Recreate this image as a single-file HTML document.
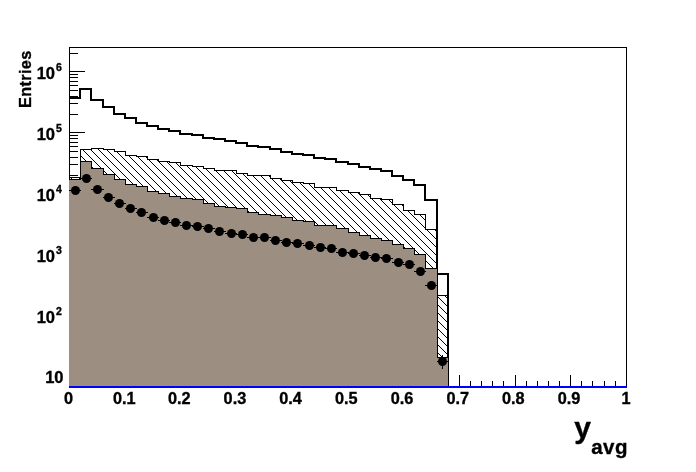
<!DOCTYPE html>
<html><head><meta charset="utf-8"><title>y_avg</title>
<style>
html,body{margin:0;padding:0;background:#fff;}
body{width:696px;height:472px;overflow:hidden;}
svg{display:block;}
text{font-family:"Liberation Sans",Arial,Helvetica,sans-serif;font-weight:bold;fill:#000;stroke:#000;stroke-width:0.35px;}
</style></head><body>
<svg width="696" height="472" viewBox="0 0 696 472">
<defs>
<pattern id="hatch" x="0" y="0" width="8" height="8" patternUnits="userSpaceOnUse">
<rect x="5" y="0" width="1" height="1" fill="#000" shape-rendering="crispEdges"/>
<rect x="6" y="1" width="1" height="1" fill="#000" shape-rendering="crispEdges"/>
<rect x="7" y="2" width="1" height="1" fill="#000" shape-rendering="crispEdges"/>
<rect x="0" y="3" width="1" height="1" fill="#000" shape-rendering="crispEdges"/>
<rect x="1" y="4" width="1" height="1" fill="#000" shape-rendering="crispEdges"/>
<rect x="2" y="5" width="1" height="1" fill="#000" shape-rendering="crispEdges"/>
<rect x="3" y="6" width="1" height="1" fill="#000" shape-rendering="crispEdges"/>
<rect x="4" y="7" width="1" height="1" fill="#000" shape-rendering="crispEdges"/>
</pattern></defs>
<rect width="696" height="472" fill="#fff"/>
<g shape-rendering="crispEdges"><rect x="69" y="47" width="558" height="1" fill="#000"/><rect x="69" y="386" width="558" height="1" fill="#000"/><rect x="69" y="47" width="1" height="340" fill="#000"/><rect x="626" y="47" width="1" height="340" fill="#000"/><rect x="69" y="376" width="16" height="1" fill="#000"/><rect x="69" y="315" width="16" height="1" fill="#000"/><rect x="69" y="254" width="16" height="1" fill="#000"/><rect x="69" y="193" width="16" height="1" fill="#000"/><rect x="69" y="132" width="16" height="1" fill="#000"/><rect x="69" y="71" width="16" height="1" fill="#000"/><rect x="69" y="382" width="9" height="1" fill="#000"/><rect x="69" y="379" width="9" height="1" fill="#000"/><rect x="69" y="358" width="9" height="1" fill="#000"/><rect x="69" y="347" width="9" height="1" fill="#000"/><rect x="69" y="340" width="9" height="1" fill="#000"/><rect x="69" y="334" width="9" height="1" fill="#000"/><rect x="69" y="329" width="9" height="1" fill="#000"/><rect x="69" y="325" width="9" height="1" fill="#000"/><rect x="69" y="321" width="9" height="1" fill="#000"/><rect x="69" y="318" width="9" height="1" fill="#000"/><rect x="69" y="297" width="9" height="1" fill="#000"/><rect x="69" y="286" width="9" height="1" fill="#000"/><rect x="69" y="279" width="9" height="1" fill="#000"/><rect x="69" y="273" width="9" height="1" fill="#000"/><rect x="69" y="268" width="9" height="1" fill="#000"/><rect x="69" y="264" width="9" height="1" fill="#000"/><rect x="69" y="260" width="9" height="1" fill="#000"/><rect x="69" y="257" width="9" height="1" fill="#000"/><rect x="69" y="236" width="9" height="1" fill="#000"/><rect x="69" y="225" width="9" height="1" fill="#000"/><rect x="69" y="218" width="9" height="1" fill="#000"/><rect x="69" y="212" width="9" height="1" fill="#000"/><rect x="69" y="207" width="9" height="1" fill="#000"/><rect x="69" y="203" width="9" height="1" fill="#000"/><rect x="69" y="199" width="9" height="1" fill="#000"/><rect x="69" y="196" width="9" height="1" fill="#000"/><rect x="69" y="175" width="9" height="1" fill="#000"/><rect x="69" y="164" width="9" height="1" fill="#000"/><rect x="69" y="157" width="9" height="1" fill="#000"/><rect x="69" y="151" width="9" height="1" fill="#000"/><rect x="69" y="146" width="9" height="1" fill="#000"/><rect x="69" y="142" width="9" height="1" fill="#000"/><rect x="69" y="138" width="9" height="1" fill="#000"/><rect x="69" y="135" width="9" height="1" fill="#000"/><rect x="69" y="114" width="9" height="1" fill="#000"/><rect x="69" y="103" width="9" height="1" fill="#000"/><rect x="69" y="96" width="9" height="1" fill="#000"/><rect x="69" y="90" width="9" height="1" fill="#000"/><rect x="69" y="85" width="9" height="1" fill="#000"/><rect x="69" y="81" width="9" height="1" fill="#000"/><rect x="69" y="77" width="9" height="1" fill="#000"/><rect x="69" y="74" width="9" height="1" fill="#000"/><rect x="69" y="53" width="9" height="1" fill="#000"/><rect x="69" y="375" width="1" height="12" fill="#000"/><rect x="80" y="381" width="1" height="6" fill="#000"/><rect x="91" y="381" width="1" height="6" fill="#000"/><rect x="103" y="381" width="1" height="6" fill="#000"/><rect x="114" y="381" width="1" height="6" fill="#000"/><rect x="125" y="375" width="1" height="12" fill="#000"/><rect x="136" y="381" width="1" height="6" fill="#000"/><rect x="147" y="381" width="1" height="6" fill="#000"/><rect x="158" y="381" width="1" height="6" fill="#000"/><rect x="169" y="381" width="1" height="6" fill="#000"/><rect x="180" y="375" width="1" height="12" fill="#000"/><rect x="192" y="381" width="1" height="6" fill="#000"/><rect x="203" y="381" width="1" height="6" fill="#000"/><rect x="214" y="381" width="1" height="6" fill="#000"/><rect x="225" y="381" width="1" height="6" fill="#000"/><rect x="236" y="375" width="1" height="12" fill="#000"/><rect x="247" y="381" width="1" height="6" fill="#000"/><rect x="258" y="381" width="1" height="6" fill="#000"/><rect x="270" y="381" width="1" height="6" fill="#000"/><rect x="281" y="381" width="1" height="6" fill="#000"/><rect x="292" y="375" width="1" height="12" fill="#000"/><rect x="303" y="381" width="1" height="6" fill="#000"/><rect x="314" y="381" width="1" height="6" fill="#000"/><rect x="325" y="381" width="1" height="6" fill="#000"/><rect x="336" y="381" width="1" height="6" fill="#000"/><rect x="348" y="375" width="1" height="12" fill="#000"/><rect x="359" y="381" width="1" height="6" fill="#000"/><rect x="370" y="381" width="1" height="6" fill="#000"/><rect x="381" y="381" width="1" height="6" fill="#000"/><rect x="392" y="381" width="1" height="6" fill="#000"/><rect x="403" y="375" width="1" height="12" fill="#000"/><rect x="414" y="381" width="1" height="6" fill="#000"/><rect x="425" y="381" width="1" height="6" fill="#000"/><rect x="437" y="381" width="1" height="6" fill="#000"/><rect x="448" y="381" width="1" height="6" fill="#000"/><rect x="459" y="375" width="1" height="12" fill="#000"/><rect x="470" y="381" width="1" height="6" fill="#000"/><rect x="481" y="381" width="1" height="6" fill="#000"/><rect x="492" y="381" width="1" height="6" fill="#000"/><rect x="503" y="381" width="1" height="6" fill="#000"/><rect x="515" y="375" width="1" height="12" fill="#000"/><rect x="526" y="381" width="1" height="6" fill="#000"/><rect x="537" y="381" width="1" height="6" fill="#000"/><rect x="548" y="381" width="1" height="6" fill="#000"/><rect x="559" y="381" width="1" height="6" fill="#000"/><rect x="570" y="375" width="1" height="12" fill="#000"/><rect x="581" y="381" width="1" height="6" fill="#000"/><rect x="592" y="381" width="1" height="6" fill="#000"/><rect x="604" y="381" width="1" height="6" fill="#000"/><rect x="615" y="381" width="1" height="6" fill="#000"/><rect x="626" y="375" width="1" height="12" fill="#000"/></g>
<g shape-rendering="crispEdges"><rect x="69" y="97" width="12" height="2" fill="#000"/><rect x="79" y="88" width="2" height="11" fill="#000"/><rect x="79" y="88" width="13" height="2" fill="#000"/><rect x="90" y="88" width="2" height="13" fill="#000"/><rect x="90" y="99" width="14" height="2" fill="#000"/><rect x="102" y="99" width="2" height="9" fill="#000"/><rect x="102" y="106" width="13" height="2" fill="#000"/><rect x="113" y="106" width="2" height="9" fill="#000"/><rect x="113" y="113" width="13" height="2" fill="#000"/><rect x="124" y="113" width="2" height="6" fill="#000"/><rect x="124" y="117" width="13" height="2" fill="#000"/><rect x="135" y="117" width="2" height="7" fill="#000"/><rect x="135" y="122" width="13" height="2" fill="#000"/><rect x="146" y="122" width="2" height="5" fill="#000"/><rect x="146" y="125" width="13" height="2" fill="#000"/><rect x="157" y="125" width="2" height="5" fill="#000"/><rect x="157" y="128" width="13" height="2" fill="#000"/><rect x="168" y="128" width="2" height="4" fill="#000"/><rect x="168" y="130" width="13" height="2" fill="#000"/><rect x="179" y="130" width="2" height="5" fill="#000"/><rect x="179" y="133" width="14" height="2" fill="#000"/><rect x="191" y="133" width="2" height="3" fill="#000"/><rect x="191" y="134" width="13" height="2" fill="#000"/><rect x="202" y="134" width="2" height="5" fill="#000"/><rect x="202" y="137" width="13" height="2" fill="#000"/><rect x="213" y="137" width="2" height="3" fill="#000"/><rect x="213" y="138" width="13" height="2" fill="#000"/><rect x="224" y="138" width="2" height="4" fill="#000"/><rect x="224" y="140" width="13" height="2" fill="#000"/><rect x="235" y="140" width="2" height="4" fill="#000"/><rect x="235" y="142" width="13" height="2" fill="#000"/><rect x="246" y="142" width="2" height="5" fill="#000"/><rect x="246" y="145" width="13" height="2" fill="#000"/><rect x="257" y="145" width="2" height="3" fill="#000"/><rect x="257" y="146" width="14" height="2" fill="#000"/><rect x="269" y="146" width="2" height="4" fill="#000"/><rect x="269" y="148" width="13" height="2" fill="#000"/><rect x="280" y="148" width="2" height="5" fill="#000"/><rect x="280" y="151" width="13" height="2" fill="#000"/><rect x="291" y="151" width="2" height="4" fill="#000"/><rect x="291" y="153" width="13" height="2" fill="#000"/><rect x="302" y="153" width="2" height="3" fill="#000"/><rect x="302" y="154" width="13" height="2" fill="#000"/><rect x="313" y="154" width="2" height="5" fill="#000"/><rect x="313" y="157" width="13" height="2" fill="#000"/><rect x="324" y="157" width="2" height="3" fill="#000"/><rect x="324" y="158" width="13" height="2" fill="#000"/><rect x="335" y="158" width="2" height="5" fill="#000"/><rect x="335" y="161" width="14" height="2" fill="#000"/><rect x="347" y="161" width="2" height="4" fill="#000"/><rect x="347" y="163" width="13" height="2" fill="#000"/><rect x="358" y="163" width="2" height="5" fill="#000"/><rect x="358" y="166" width="13" height="2" fill="#000"/><rect x="369" y="166" width="2" height="4" fill="#000"/><rect x="369" y="168" width="13" height="2" fill="#000"/><rect x="380" y="168" width="2" height="4" fill="#000"/><rect x="380" y="170" width="13" height="2" fill="#000"/><rect x="391" y="170" width="2" height="7" fill="#000"/><rect x="391" y="175" width="13" height="2" fill="#000"/><rect x="402" y="175" width="2" height="6" fill="#000"/><rect x="402" y="179" width="13" height="2" fill="#000"/><rect x="413" y="179" width="2" height="7" fill="#000"/><rect x="413" y="184" width="13" height="2" fill="#000"/><rect x="424" y="184" width="2" height="17" fill="#000"/><rect x="424" y="199" width="14" height="2" fill="#000"/><rect x="436" y="199" width="2" height="76" fill="#000"/><rect x="436" y="273" width="13" height="2" fill="#000"/><rect x="447" y="273" width="2" height="114" fill="#000"/></g>
<path d="M70,387 L70,177 L70,177 L80,177 L80,149 L91,149 L91,148 L103,148 L103,149 L114,149 L114,151 L125,151 L125,155 L136,155 L136,156 L147,156 L147,159 L158,159 L158,161 L169,161 L169,162 L180,162 L180,165 L192,165 L192,166 L203,166 L203,168 L214,168 L214,170 L225,170 L225,170 L236,170 L236,173 L247,173 L247,175 L258,175 L258,175 L270,175 L270,178 L281,178 L281,180 L292,180 L292,182 L303,182 L303,183 L314,183 L314,187 L325,187 L325,187 L336,187 L336,190 L348,190 L348,192 L359,192 L359,194 L370,194 L370,198 L381,198 L381,199 L392,199 L392,204 L403,204 L403,210 L414,210 L414,214 L425,214 L425,229 L437,229 L437,295 L448,295 L448,387 Z" fill="url(#hatch)" shape-rendering="crispEdges"/>
<g shape-rendering="crispEdges"><rect x="69" y="177" width="12" height="1" fill="#000"/><rect x="80" y="149" width="1" height="29" fill="#000"/><rect x="80" y="149" width="12" height="1" fill="#000"/><rect x="91" y="148" width="1" height="2" fill="#000"/><rect x="91" y="148" width="13" height="1" fill="#000"/><rect x="103" y="148" width="1" height="2" fill="#000"/><rect x="103" y="149" width="12" height="1" fill="#000"/><rect x="114" y="149" width="1" height="3" fill="#000"/><rect x="114" y="151" width="12" height="1" fill="#000"/><rect x="125" y="151" width="1" height="5" fill="#000"/><rect x="125" y="155" width="12" height="1" fill="#000"/><rect x="136" y="155" width="1" height="2" fill="#000"/><rect x="136" y="156" width="12" height="1" fill="#000"/><rect x="147" y="156" width="1" height="4" fill="#000"/><rect x="147" y="159" width="12" height="1" fill="#000"/><rect x="158" y="159" width="1" height="3" fill="#000"/><rect x="158" y="161" width="12" height="1" fill="#000"/><rect x="169" y="161" width="1" height="2" fill="#000"/><rect x="169" y="162" width="12" height="1" fill="#000"/><rect x="180" y="162" width="1" height="4" fill="#000"/><rect x="180" y="165" width="13" height="1" fill="#000"/><rect x="192" y="165" width="1" height="2" fill="#000"/><rect x="192" y="166" width="12" height="1" fill="#000"/><rect x="203" y="166" width="1" height="3" fill="#000"/><rect x="203" y="168" width="12" height="1" fill="#000"/><rect x="214" y="168" width="1" height="3" fill="#000"/><rect x="214" y="170" width="12" height="1" fill="#000"/><rect x="225" y="170" width="1" height="1" fill="#000"/><rect x="225" y="170" width="12" height="1" fill="#000"/><rect x="236" y="170" width="1" height="4" fill="#000"/><rect x="236" y="173" width="12" height="1" fill="#000"/><rect x="247" y="173" width="1" height="3" fill="#000"/><rect x="247" y="175" width="12" height="1" fill="#000"/><rect x="258" y="175" width="1" height="1" fill="#000"/><rect x="258" y="175" width="13" height="1" fill="#000"/><rect x="270" y="175" width="1" height="4" fill="#000"/><rect x="270" y="178" width="12" height="1" fill="#000"/><rect x="281" y="178" width="1" height="3" fill="#000"/><rect x="281" y="180" width="12" height="1" fill="#000"/><rect x="292" y="180" width="1" height="3" fill="#000"/><rect x="292" y="182" width="12" height="1" fill="#000"/><rect x="303" y="182" width="1" height="2" fill="#000"/><rect x="303" y="183" width="12" height="1" fill="#000"/><rect x="314" y="183" width="1" height="5" fill="#000"/><rect x="314" y="187" width="12" height="1" fill="#000"/><rect x="325" y="187" width="1" height="1" fill="#000"/><rect x="325" y="187" width="12" height="1" fill="#000"/><rect x="336" y="187" width="1" height="4" fill="#000"/><rect x="336" y="190" width="13" height="1" fill="#000"/><rect x="348" y="190" width="1" height="3" fill="#000"/><rect x="348" y="192" width="12" height="1" fill="#000"/><rect x="359" y="192" width="1" height="3" fill="#000"/><rect x="359" y="194" width="12" height="1" fill="#000"/><rect x="370" y="194" width="1" height="5" fill="#000"/><rect x="370" y="198" width="12" height="1" fill="#000"/><rect x="381" y="198" width="1" height="2" fill="#000"/><rect x="381" y="199" width="12" height="1" fill="#000"/><rect x="392" y="199" width="1" height="6" fill="#000"/><rect x="392" y="204" width="12" height="1" fill="#000"/><rect x="403" y="204" width="1" height="7" fill="#000"/><rect x="403" y="210" width="12" height="1" fill="#000"/><rect x="414" y="210" width="1" height="5" fill="#000"/><rect x="414" y="214" width="12" height="1" fill="#000"/><rect x="425" y="214" width="1" height="16" fill="#000"/><rect x="425" y="229" width="13" height="1" fill="#000"/><rect x="437" y="229" width="1" height="67" fill="#000"/><rect x="437" y="295" width="12" height="1" fill="#000"/><rect x="448" y="295" width="1" height="92" fill="#000"/></g>
<path d="M69,387 L69,179 L69,179 L80,179 L80,161 L91,161 L91,168 L103,168 L103,174 L114,174 L114,179 L125,179 L125,184 L136,184 L136,186 L147,186 L147,191 L158,191 L158,193 L169,193 L169,196 L180,196 L180,198 L192,198 L192,199 L203,199 L203,203 L214,203 L214,206 L225,206 L225,207 L236,207 L236,208 L247,208 L247,212 L258,212 L258,214 L270,214 L270,215 L281,215 L281,217 L292,217 L292,220 L303,220 L303,221 L314,221 L314,225 L325,225 L325,225 L336,225 L336,228 L348,228 L348,232 L359,232 L359,235 L370,235 L370,238 L381,238 L381,240 L392,240 L392,244 L403,244 L403,248 L414,248 L414,254 L425,254 L425,268 L437,268 L437,357 L448,357 L448,387 Z" fill="#9c8f82" shape-rendering="crispEdges"/>
<g shape-rendering="crispEdges"><rect x="69" y="179" width="12" height="1" fill="#000"/><rect x="80" y="161" width="1" height="19" fill="#000"/><rect x="80" y="161" width="12" height="1" fill="#000"/><rect x="91" y="161" width="1" height="8" fill="#000"/><rect x="91" y="168" width="13" height="1" fill="#000"/><rect x="103" y="168" width="1" height="7" fill="#000"/><rect x="103" y="174" width="12" height="1" fill="#000"/><rect x="114" y="174" width="1" height="6" fill="#000"/><rect x="114" y="179" width="12" height="1" fill="#000"/><rect x="125" y="179" width="1" height="6" fill="#000"/><rect x="125" y="184" width="12" height="1" fill="#000"/><rect x="136" y="184" width="1" height="3" fill="#000"/><rect x="136" y="186" width="12" height="1" fill="#000"/><rect x="147" y="186" width="1" height="6" fill="#000"/><rect x="147" y="191" width="12" height="1" fill="#000"/><rect x="158" y="191" width="1" height="3" fill="#000"/><rect x="158" y="193" width="12" height="1" fill="#000"/><rect x="169" y="193" width="1" height="4" fill="#000"/><rect x="169" y="196" width="12" height="1" fill="#000"/><rect x="180" y="196" width="1" height="3" fill="#000"/><rect x="180" y="198" width="13" height="1" fill="#000"/><rect x="192" y="198" width="1" height="2" fill="#000"/><rect x="192" y="199" width="12" height="1" fill="#000"/><rect x="203" y="199" width="1" height="5" fill="#000"/><rect x="203" y="203" width="12" height="1" fill="#000"/><rect x="214" y="203" width="1" height="4" fill="#000"/><rect x="214" y="206" width="12" height="1" fill="#000"/><rect x="225" y="206" width="1" height="2" fill="#000"/><rect x="225" y="207" width="12" height="1" fill="#000"/><rect x="236" y="207" width="1" height="2" fill="#000"/><rect x="236" y="208" width="12" height="1" fill="#000"/><rect x="247" y="208" width="1" height="5" fill="#000"/><rect x="247" y="212" width="12" height="1" fill="#000"/><rect x="258" y="212" width="1" height="3" fill="#000"/><rect x="258" y="214" width="13" height="1" fill="#000"/><rect x="270" y="214" width="1" height="2" fill="#000"/><rect x="270" y="215" width="12" height="1" fill="#000"/><rect x="281" y="215" width="1" height="3" fill="#000"/><rect x="281" y="217" width="12" height="1" fill="#000"/><rect x="292" y="217" width="1" height="4" fill="#000"/><rect x="292" y="220" width="12" height="1" fill="#000"/><rect x="303" y="220" width="1" height="2" fill="#000"/><rect x="303" y="221" width="12" height="1" fill="#000"/><rect x="314" y="221" width="1" height="5" fill="#000"/><rect x="314" y="225" width="12" height="1" fill="#000"/><rect x="325" y="225" width="1" height="1" fill="#000"/><rect x="325" y="225" width="12" height="1" fill="#000"/><rect x="336" y="225" width="1" height="4" fill="#000"/><rect x="336" y="228" width="13" height="1" fill="#000"/><rect x="348" y="228" width="1" height="5" fill="#000"/><rect x="348" y="232" width="12" height="1" fill="#000"/><rect x="359" y="232" width="1" height="4" fill="#000"/><rect x="359" y="235" width="12" height="1" fill="#000"/><rect x="370" y="235" width="1" height="4" fill="#000"/><rect x="370" y="238" width="12" height="1" fill="#000"/><rect x="381" y="238" width="1" height="3" fill="#000"/><rect x="381" y="240" width="12" height="1" fill="#000"/><rect x="392" y="240" width="1" height="5" fill="#000"/><rect x="392" y="244" width="12" height="1" fill="#000"/><rect x="403" y="244" width="1" height="5" fill="#000"/><rect x="403" y="248" width="12" height="1" fill="#000"/><rect x="414" y="248" width="1" height="7" fill="#000"/><rect x="414" y="254" width="12" height="1" fill="#000"/><rect x="425" y="254" width="1" height="15" fill="#000"/><rect x="425" y="268" width="13" height="1" fill="#000"/><rect x="437" y="268" width="1" height="90" fill="#000"/><rect x="437" y="357" width="12" height="1" fill="#000"/><rect x="448" y="357" width="1" height="30" fill="#000"/></g>
<g shape-rendering="crispEdges"><rect x="69" y="190" width="12" height="1" fill="#000"/><rect x="80" y="178" width="12" height="1" fill="#000"/><rect x="91" y="189" width="13" height="1" fill="#000"/><rect x="103" y="197" width="12" height="1" fill="#000"/><rect x="114" y="203" width="12" height="1" fill="#000"/><rect x="125" y="208" width="12" height="1" fill="#000"/><rect x="136" y="212" width="12" height="1" fill="#000"/><rect x="147" y="217" width="12" height="1" fill="#000"/><rect x="158" y="220" width="12" height="1" fill="#000"/><rect x="169" y="222" width="12" height="1" fill="#000"/><rect x="180" y="225" width="13" height="1" fill="#000"/><rect x="192" y="226" width="12" height="1" fill="#000"/><rect x="203" y="228" width="12" height="1" fill="#000"/><rect x="214" y="231" width="12" height="1" fill="#000"/><rect x="225" y="233" width="12" height="1" fill="#000"/><rect x="236" y="234" width="12" height="1" fill="#000"/><rect x="247" y="237" width="12" height="1" fill="#000"/><rect x="258" y="237" width="13" height="1" fill="#000"/><rect x="270" y="240" width="12" height="1" fill="#000"/><rect x="281" y="242" width="12" height="1" fill="#000"/><rect x="292" y="243" width="12" height="1" fill="#000"/><rect x="303" y="245" width="12" height="1" fill="#000"/><rect x="314" y="247" width="12" height="1" fill="#000"/><rect x="325" y="248" width="12" height="1" fill="#000"/><rect x="336" y="252" width="13" height="1" fill="#000"/><rect x="348" y="253" width="12" height="1" fill="#000"/><rect x="359" y="255" width="12" height="1" fill="#000"/><rect x="370" y="257" width="12" height="1" fill="#000"/><rect x="381" y="258" width="12" height="1" fill="#000"/><rect x="392" y="262" width="12" height="1" fill="#000"/><rect x="403" y="264" width="12" height="1" fill="#000"/><rect x="414" y="271" width="12" height="1" fill="#000"/><rect x="425" y="285" width="13" height="1" fill="#000"/><rect x="437" y="361" width="12" height="1" fill="#000"/><rect x="442" y="355" width="1" height="14" fill="#000"/></g>
<g fill="#000"><circle cx="75.5" cy="190.5" r="4.5"/><circle cx="86.5" cy="178.5" r="4.5"/><circle cx="97.5" cy="189.5" r="4.5"/><circle cx="108.5" cy="197.5" r="4.5"/><circle cx="119.5" cy="203.5" r="4.5"/><circle cx="130.5" cy="208.5" r="4.5"/><circle cx="141.5" cy="212.5" r="4.5"/><circle cx="153.5" cy="217.5" r="4.5"/><circle cx="164.5" cy="220.5" r="4.5"/><circle cx="175.5" cy="222.5" r="4.5"/><circle cx="186.5" cy="225.5" r="4.5"/><circle cx="197.5" cy="226.5" r="4.5"/><circle cx="208.5" cy="228.5" r="4.5"/><circle cx="219.5" cy="231.5" r="4.5"/><circle cx="231.5" cy="233.5" r="4.5"/><circle cx="242.5" cy="234.5" r="4.5"/><circle cx="253.5" cy="237.5" r="4.5"/><circle cx="264.5" cy="237.5" r="4.5"/><circle cx="275.5" cy="240.5" r="4.5"/><circle cx="286.5" cy="242.5" r="4.5"/><circle cx="297.5" cy="243.5" r="4.5"/><circle cx="309.5" cy="245.5" r="4.5"/><circle cx="320.5" cy="247.5" r="4.5"/><circle cx="331.5" cy="248.5" r="4.5"/><circle cx="342.5" cy="252.5" r="4.5"/><circle cx="353.5" cy="253.5" r="4.5"/><circle cx="364.5" cy="255.5" r="4.5"/><circle cx="375.5" cy="257.5" r="4.5"/><circle cx="386.5" cy="258.5" r="4.5"/><circle cx="398.5" cy="262.5" r="4.5"/><circle cx="409.5" cy="264.5" r="4.5"/><circle cx="420.5" cy="271.5" r="4.5"/><circle cx="431.5" cy="285.5" r="4.5"/><circle cx="442.5" cy="361.5" r="4.5"/></g>
<rect x="69" y="386" width="558" height="2" fill="#0000ff" shape-rendering="crispEdges"/>
<text x="63.5" y="382.6" font-size="16.5" text-anchor="end">10</text>
<text x="55" y="322.6" font-size="16.5" text-anchor="end">10</text>
<text x="56" y="314.6" font-size="10.5">2</text>
<text x="55" y="261.6" font-size="16.5" text-anchor="end">10</text>
<text x="56" y="253.6" font-size="10.5">3</text>
<text x="55" y="200.6" font-size="16.5" text-anchor="end">10</text>
<text x="56" y="192.6" font-size="10.5">4</text>
<text x="55" y="139.6" font-size="16.5" text-anchor="end">10</text>
<text x="56" y="131.6" font-size="10.5">5</text>
<text x="55" y="78.6" font-size="16.5" text-anchor="end">10</text>
<text x="56" y="70.6" font-size="10.5">6</text>
<text x="68.6" y="404" font-size="16.3" text-anchor="middle">0</text>
<text x="124.3" y="404" font-size="16.3" text-anchor="middle">0.1</text>
<text x="179.3" y="404" font-size="16.3" text-anchor="middle">0.2</text>
<text x="234.9" y="404" font-size="16.3" text-anchor="middle">0.3</text>
<text x="290.6" y="404" font-size="16.3" text-anchor="middle">0.4</text>
<text x="346.3" y="404" font-size="16.3" text-anchor="middle">0.5</text>
<text x="402.0" y="404" font-size="16.3" text-anchor="middle">0.6</text>
<text x="457.7" y="404" font-size="16.3" text-anchor="middle">0.7</text>
<text x="513.3" y="404" font-size="16.3" text-anchor="middle">0.8</text>
<text x="569.0" y="404" font-size="16.3" text-anchor="middle">0.9</text>
<text x="626.1" y="404" font-size="16.3" text-anchor="middle">1</text>
<text transform="translate(31,108) rotate(-90)" font-size="16.3" letter-spacing="0.35">Entries</text>
<text x="574.3" y="438.4" font-size="30">y</text>
<text x="591.2" y="453.8" font-size="20.5" letter-spacing="0.5">avg</text>
</svg></body></html>
